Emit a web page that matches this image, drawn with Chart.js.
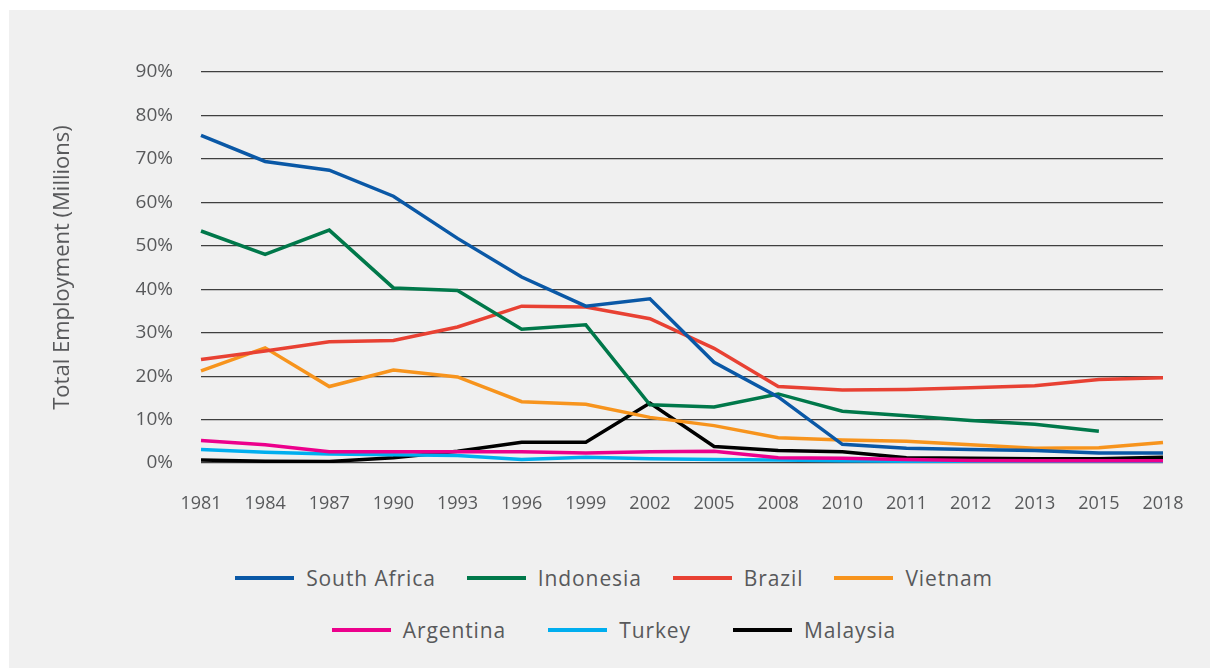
<!DOCTYPE html>
<html>
<head>
<meta charset="utf-8">
<script src="https://cdn.jsdelivr.net/npm/chart.js@4"></script>
<style>
  body { margin: 0; background: #ffffff; font-family: "Open Sans", sans-serif; }
  .panel { position: absolute; left: 9px; top: 10px; width: 1201px; height: 658px; background: #f0f0f0; }
  .chart-box { position: absolute; left: 0; top: 0; width: 1201px; height: 530px; }
  .legend-row { position: absolute; left: 9px; width: 1192px; display: flex; justify-content: center; align-items: center; color: #58595b; font-size: 21px; letter-spacing: 0.9px; }
  .legend-item { display: flex; align-items: center; }
  .legend-line { width: 59px; height: 4px; margin-right: 12px; }
</style>
</head>
<body>
<div class="panel">
  <div class="chart-box"><canvas id="chart"></canvas></div>
  <div class="legend-row" id="row1" style="top: 554px;"></div>
  <div class="legend-row" id="row2" style="top: 606px;"></div>
</div>
<script>
const years = ['1981', '1984', '1987', '1990', '1993', '1996', '1999', '2002', '2005', '2008', '2010', '2011', '2012', '2013', '2015', '2018'];

const southAfrica = [75.4, 69.4, 67.4, 61.4, 51.7, 42.8, 36.1, 37.8, 23.2, 15.2, 4.3, 3.4, 3.1, 2.9, 2.3, 2.3];
const indonesia = [53.4, 48.0, 53.6, 40.3, 39.7, 30.8, 31.8, 13.4, 12.9, 15.9, 11.9, 10.9, 9.8, 8.9, 7.3, null];
const brazil = [23.8, 25.8, 27.9, 28.2, 31.3, 36.1, 35.9, 33.2, 26.4, 17.6, 16.8, 16.9, 17.3, 17.8, 19.2, 19.6];
const vietnam = [21.2, 26.5, 17.6, 21.4, 19.8, 14.1, 13.5, 10.5, 8.6, 5.8, 5.3, 5.0, 4.2, 3.4, 3.5, 4.7];
const argentina = [5.2, 4.2, 2.6, 2.6, 2.6, 2.6, 2.3, 2.6, 2.7, 1.2, 1.1, 0.8, 0.6, 0.5, 0.5, 0.5];
const turkey = [3.1, 2.5, 2.1, 1.9, 1.7, 0.8, 1.3, 1.0, 0.8, 0.7, 0.5, 0.4, 0.4, 0.4, 0.4, 0.35];
const malaysia = [0.7, 0.4, 0.35, 1.2, 2.7, 4.8, 4.8, 13.8, 3.8, 2.9, 2.6, 1.2, 1.1, 1.0, 1.0, 1.3];

const yTicks = [0, 10, 20, 30, 40, 50, 60, 70, 80, 90];

const series = [
  { label: 'South Africa', data: southAfrica, color: '#0a58a6' },
  { label: 'Indonesia', data: indonesia, color: '#00784a' },
  { label: 'Brazil', data: brazil, color: '#e84133' },
  { label: 'Vietnam', data: vietnam, color: '#f7941d' },
  { label: 'Argentina', data: argentina, color: '#ec008c' },
  { label: 'Turkey', data: turkey, color: '#00aeef' },
  { label: 'Malaysia', data: malaysia, color: '#000000' },
];

const textColor = '#58595b';

const chart = new Chart(document.getElementById('chart'), {
  type: 'line',
  data: {
    labels: years,
    datasets: series.map((s) => ({
      label: s.label,
      data: s.data,
      borderColor: s.color,
      backgroundColor: s.color,
      borderWidth: 3.5,
      pointRadius: 0,
      tension: 0,
      fill: false,
    })),
  },
  options: {
    responsive: true,
    maintainAspectRatio: false,
    animation: false,
    layout: { padding: { top: 62, right: 47, left: 0, bottom: 0 } },
    plugins: {
      legend: { display: false },
      tooltip: { enabled: false },
    },
    scales: {
      x: {
        offset: false,
        // grid hidden, tickLength only pushes the labels down
        grid: { display: false, tickLength: 26 },
        border: { display: false },
        ticks: {
          color: textColor,
          font: { family: 'Open Sans', size: 18 },
          padding: 4,
          maxRotation: 0,
          autoSkip: false,
        },
        afterFit: (scale) => { scale.height = 77; },
      },
      y: {
        min: 0,
        max: 90,
        afterBuildTicks: (scale) => { scale.ticks = yTicks.map((v) => ({ value: v })); },
        grid: { color: '#3f3f3f', lineWidth: 1.2, drawTicks: false },
        border: { display: false },
        ticks: {
          color: textColor,
          font: { family: 'Open Sans', size: 19 },
          padding: 28,
          callback: (v) => v + '%',
        },
        title: {
          display: true,
          text: 'Total Employment (Millions)',
          color: textColor,
          font: { family: 'Open Sans', size: 22 },
          padding: { top: 41, bottom: 0 },
        },
        afterFit: (scale) => { scale.width = 192; },
      },
    },
  },
});

// legend built from the chart datasets, 4 on the first row and 3 on the second
function buildLegend() {
  const rows = [document.getElementById('row1'), document.getElementById('row2')];
  chart.data.datasets.forEach((ds, i) => {
    const row = i < 4 ? rows[0] : rows[1];
    const item = document.createElement('div');
    item.className = 'legend-item';
    item.style.marginLeft = (row.children.length === 0) ? '0' : (i < 4 ? '31px' : '42px');
    const line = document.createElement('span');
    line.className = 'legend-line';
    line.style.background = ds.borderColor;
    const text = document.createElement('span');
    text.textContent = ds.label;
    item.appendChild(line);
    item.appendChild(text);
    row.appendChild(item);
  });
}
buildLegend();
</script>
</body>
</html>
